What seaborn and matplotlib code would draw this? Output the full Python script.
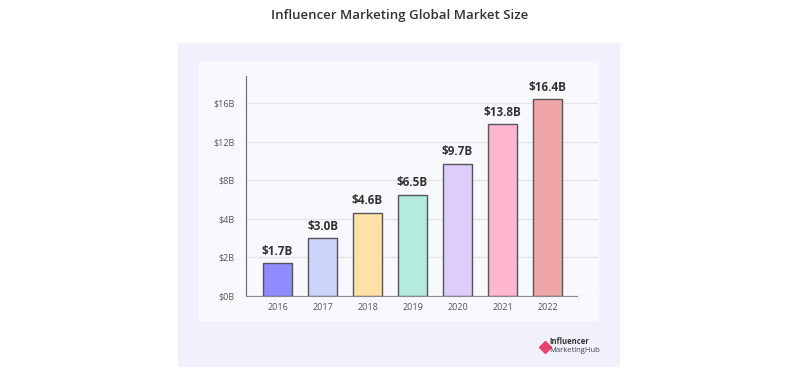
import numpy as np
import matplotlib
matplotlib.use('Agg')
import matplotlib.pyplot as plt
from matplotlib.patches import Rectangle
from matplotlib.ticker import FixedLocator, FuncFormatter
import seaborn as sns
import pandas as pd

# 데이터
years = ['2016', '2017', '2018', '2019', '2020', '2021', '2022']
market_size = [1.7, 3.0, 4.6, 6.5, 9.7, 13.8, 16.4]
bar_labels = ['$1.7B', '$3.0B', '$4.6B', '$6.5B', '$9.7B', '$13.8B', '$16.4B']
bar_colors = ['#8f8cff', '#ccd4fb', '#ffe0a6', '#b3ecde', '#dccdfd', '#ffb6cf', '#f0a6a6']
y_ticks = [0, 2, 4, 8, 12, 16]

df = pd.DataFrame({'year': years, 'size': market_size})

sns.set_style('white')
plt.rcParams['font.family'] = ['Open Sans', 'DejaVu Sans']

fig = plt.figure(figsize=(8, 3.75), dpi=100)
W, H = 800, 375

# 배경 패널 (픽셀 -> figure 좌표)
def px_rect(x0, y0, x1, y1, color):
    fig.patches.append(Rectangle((x0 / W, 1 - y1 / H), (x1 - x0) / W, (y1 - y0) / H,
                                 transform=fig.transFigure, color=color, zorder=-5))

px_rect(178, 43, 619, 366, '#f1f0fd')
px_rect(199, 61, 598, 320, '#f9f9fd')

ax = fig.add_axes([246 / W, 1 - 296 / H, (598 - 246) / W, (296 - 76) / H])
ax.set_zorder(2)
ax.set_facecolor('none')

# 인포그래픽의 불균등 눈금 간격을 위한 구간 선형 스케일
knots = [0, 2, 4, 8, 12, 16, 20]
steps = [0, 1, 2, 3, 4, 5, 6]
fwd = lambda v: np.interp(v, knots, steps)
inv = lambda t: np.interp(t, steps, knots)
ax.set_yscale('function', functions=(fwd, inv))

sns.barplot(data=df, x='year', y='size', hue='year', palette=bar_colors, legend=False,
            saturation=1, width=0.66, edgecolor='#555555', linewidth=1.0, ax=ax, zorder=3)

for i, (v, lab) in enumerate(zip(market_size, bar_labels)):
    ax.annotate(lab, (i, v), xytext=(0, 4), textcoords='offset points',
                ha='center', va='bottom', fontsize=8.5, fontweight='bold', color='#333333')

ax.set_xlim(-0.7, 6 + (598 - 547) / 45.5)
ax.set_ylim(0, 18.8)
ax.yaxis.set_major_locator(FixedLocator(y_ticks))
ax.yaxis.set_minor_locator(FixedLocator([]))
ax.yaxis.set_major_formatter(FuncFormatter(lambda v, p: f'${v:.0f}B'))
ax.grid(axis='y', color='#e3e3ea', linewidth=1.0, zorder=0)
ax.set_axisbelow(True)

for s in ['top', 'right']:
    ax.spines[s].set_visible(False)
ax.spines['left'].set_color('#666666')
ax.spines['bottom'].set_color('#888888')
ax.spines['bottom'].set_bounds(-0.7, 6 + (577 - 547) / 45.5)
ax.tick_params(axis='both', length=0, labelsize=6.5, labelcolor='#555555')
ax.tick_params(axis='y', pad=8)
ax.tick_params(axis='x', pad=5)
ax.set_xlabel('')
ax.set_ylabel('')

fig.text(0.5, 1 - 16 / H, 'Influencer Marketing Global Market Size', ha='center', va='center',
         fontsize=9.5, fontweight='semibold', color='#333333')

# 로고
fig.text(549 / W, 1 - 342 / H, 'Influencer', ha='left', va='center', fontsize=5.5,
         fontweight='bold', color='#333333')
fig.text(549 / W, 1 - 350 / H, 'MarketingHub', ha='left', va='center', fontsize=5.5,
         color='#444444')
fig.lines.append(plt.Line2D([545 / W], [1 - 347 / H], marker='D', markersize=6,
                            color='#e8416c', transform=fig.transFigure))

fig.savefig('out.png', dpi=100)
